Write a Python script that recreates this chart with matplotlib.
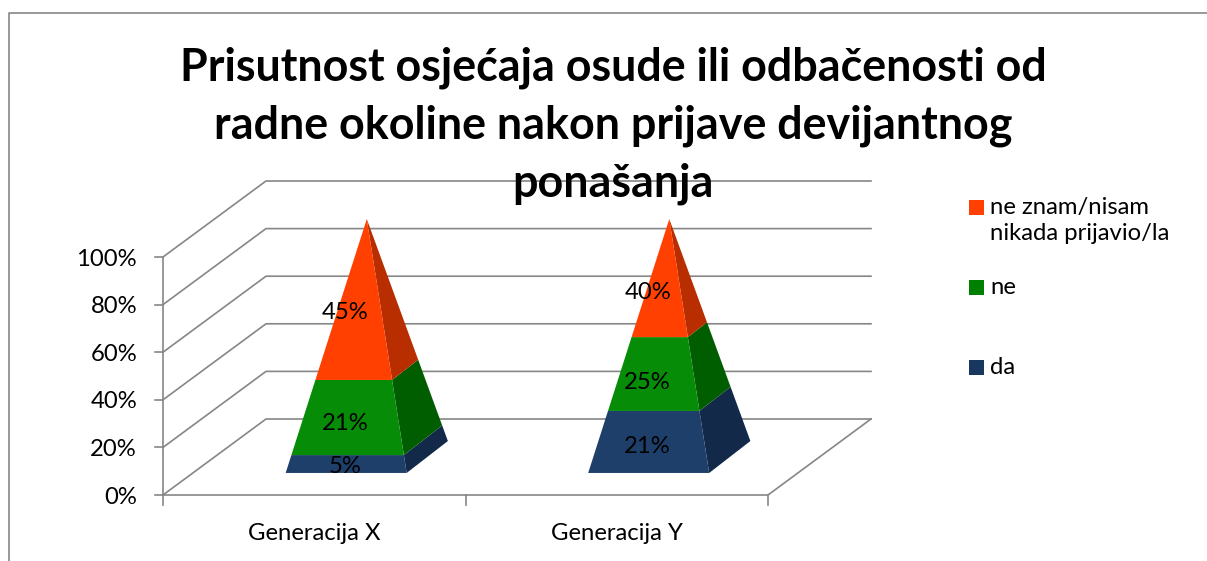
import matplotlib
matplotlib.use('Agg')
import matplotlib.pyplot as plt
from matplotlib.patches import Rectangle

plt.rcParams['font.family'] = ['Lato', 'DejaVu Sans']

title = "Prisutnost osjećaja osude ili odbačenosti od\nradne okoline nakon prijave devijantnog\nponašanja"
categories = ["Generacija X", "Generacija Y"]
series = ["da", "ne", "ne znam/nisam\nnikada prijavio/la"]
da = [5, 21]
ne = [21, 25]
ne_znam = [45, 40]
y_ticks = [0, 20, 40, 60, 80, 100]

front_col = ['#1F3F6B', '#078C07', '#FF4000']
side_col = ['#12294A', '#005E00', '#B82E00']
legend_col = ['#17375E', '#008000', '#FF4000']
grid_col = '#868686'

# pixel frame of the fake 3d box
X0, Y0 = 163, 495
CAT_W = 302.5
H100 = 238
DX, DY = 103, 76
FS = 17.2


def proj(cat, depth, pct):
    return X0 + cat * CAT_W + depth * DX, Y0 - pct * H100 / 100 - depth * DY


def corner(i, sx, sd, pct):
    # sx, sd: -1/1 corner of the base, shrinks to the apex as pct goes to 100
    k = 1 - pct / 100
    px = proj(i + 0.5 + sx * 0.2 * k, 0.51 + sd * 0.2 * k, pct)[0]
    py = proj(i + 0.5, 0.5 + sd * 0.21 * k, pct)[1]
    return px, py


fig = plt.figure(figsize=(12.07, 5.61), dpi=100)
ax = fig.add_axes([0, 0, 1, 1])
ax.set_xlim(0, 1207)
ax.set_ylim(561, 0)
ax.axis('off')

# outer frame
ax.plot([8.5, 8.5, 1207], [561, 12.5, 12.5], color=grid_col, lw=1.2)

# walls and gridlines
for t in y_ticks:
    p0 = proj(0, 0, t)
    p1 = proj(0, 1, t)
    p2 = proj(2, 1, t)
    ax.plot([p0[0], p1[0], p2[0]], [p0[1], p1[1], p2[1]], color=grid_col, lw=1.2, zorder=1)
    ax.plot([p0[0] - 8, p0[0]], [p0[1], p0[1]], color=grid_col, lw=1.2, zorder=1)
    ax.text(137, p0[1] + 2, f"{t}%", ha='right', va='center', fontsize=FS, color='black')

a = proj(0, 0, 0)
b = proj(0, 0, 100)
ax.plot([a[0], b[0]], [a[1], b[1]], color=grid_col, lw=1.2, zorder=1)
a = proj(0, 0, 0)
b = proj(2, 0, 0)
c = proj(2, 1, 0)
ax.plot([a[0], b[0], c[0]], [a[1], b[1], c[1]], color=grid_col, lw=1.2, zorder=1)
for i in range(3):
    p = proj(i, 0, 0)
    ax.plot([p[0], p[0]], [p[1], p[1] + 10], color=grid_col, lw=1.2, zorder=1)

# pyramids, normalised to 100% per category
for i, cat in enumerate(categories):
    vals = [da[i], ne[i], ne_znam[i]]
    total = sum(vals)
    low = 0
    for j, v in enumerate(vals):
        high = low + v / total * 100
        fl = corner(i, -1, -1, low)
        fr = corner(i, 1, -1, low)
        br = corner(i, 1, 1, low)
        tl = corner(i, -1, -1, high)
        tr = corner(i, 1, -1, high)
        tb = corner(i, 1, 1, high)
        ax.fill([fr[0], br[0], tb[0], tr[0]], [fr[1], br[1], tb[1], tr[1]], color=side_col[j], lw=0, zorder=3)
        ax.fill([fl[0], fr[0], tr[0], tl[0]], [fl[1], fr[1], tr[1], tl[1]], color=front_col[j], lw=0, zorder=3)
        lx, ly = proj(i + 0.5, 0.3, (low + high) / 2)
        ax.text(lx, ly + 3, f"{v}%", ha='center', va='center', fontsize=FS, color='black', zorder=5)
        low = high
    px, py = proj(i + 0.5, 0, 0)
    ax.text(px, 533, cat, ha='center', va='center', fontsize=FS, color='black')

ax.text(613, 126, title, ha='center', va='center', fontsize=32.3, fontweight='bold',
        color='black', linespacing=1.45, zorder=6)

# legend, top entry first
legend_y = [200, 280, 360]
for k, j in enumerate([2, 1, 0]):
    ax.add_patch(Rectangle((969, legend_y[k]), 15, 15, color=legend_col[j], lw=0))
    ax.text(990, legend_y[k] - 3, series[j], ha='left', va='top', fontsize=FS, color='black', linespacing=1.3)

fig.savefig('out.png', dpi=100)
